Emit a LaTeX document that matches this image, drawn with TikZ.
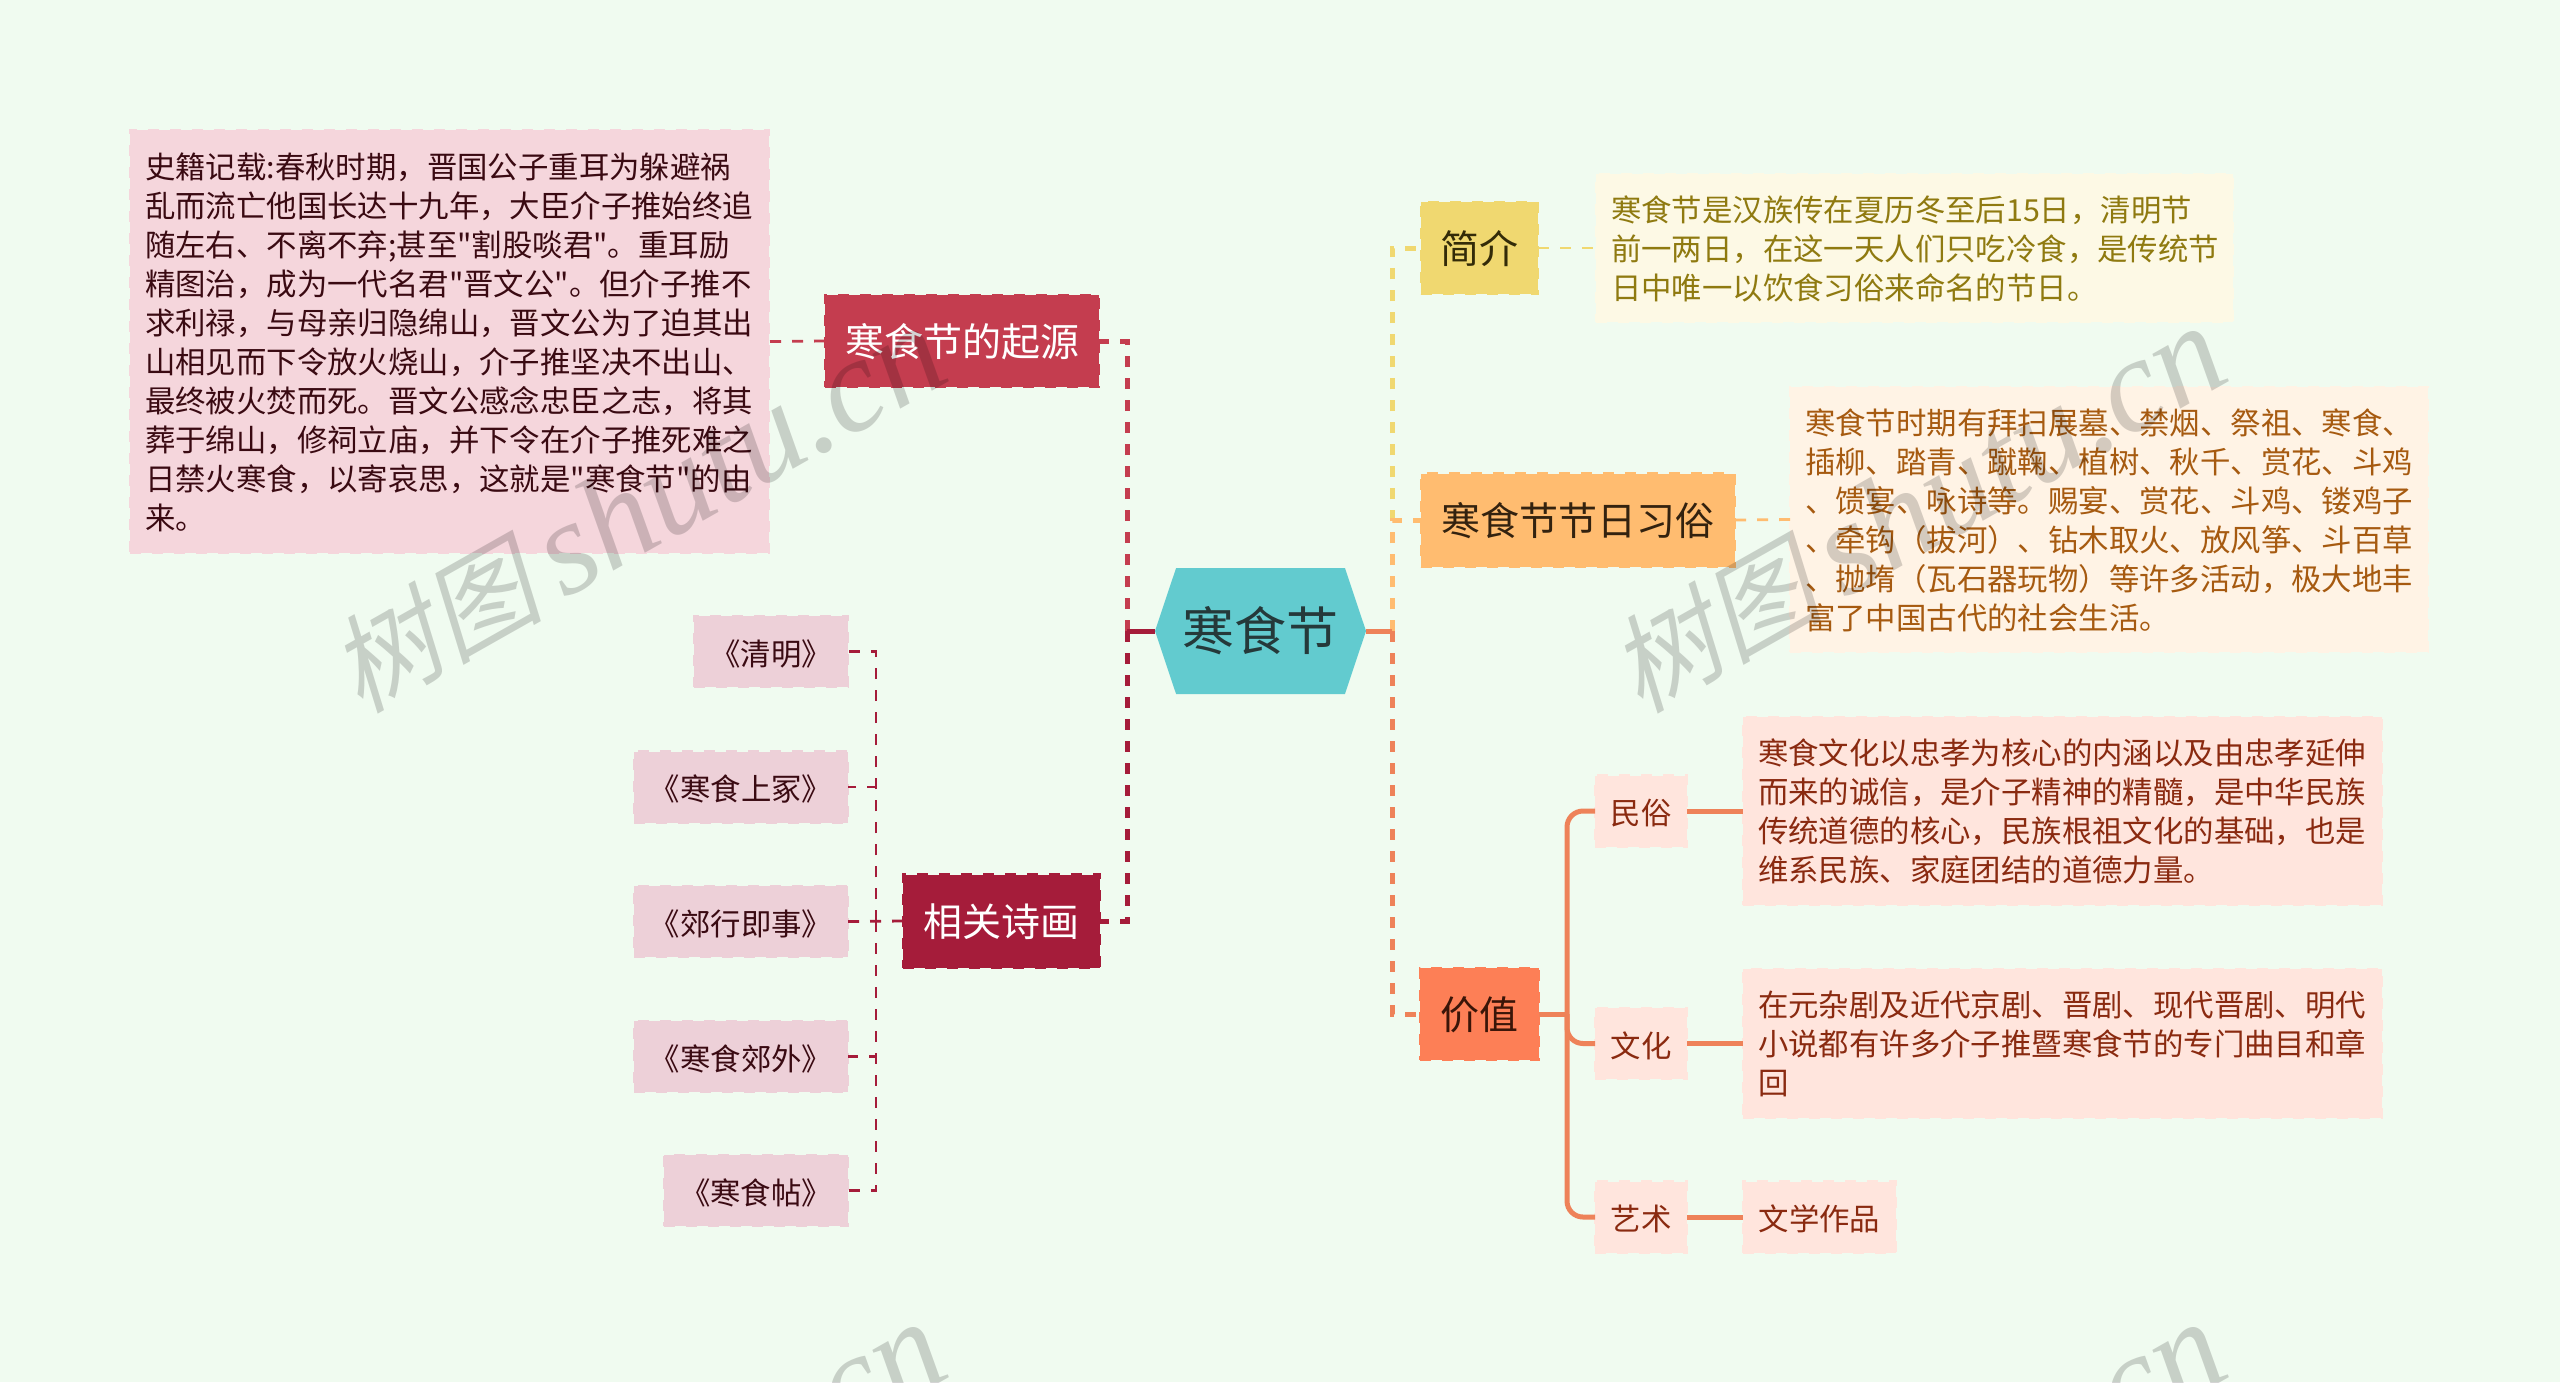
\documentclass[tikz,border=0pt]{standalone}
\usepackage{fontspec}
\usetikzlibrary{shapes.symbols}
\newfontfamily\cjk{Noto Sans CJK SC}
\newfontfamily\wmlatin{Liberation Serif}[Scale=1.25,ItalicFont={Liberation Serif Italic}]
\newfontfamily\wmcjk{Noto Sans CJK SC}[FakeSlant=0.22]
\newcommand{\zc}{\char"FF0C\relax}
\newcommand{\zl}{\char"FF08\relax}
\newcommand{\zr}{\char"FF09\relax}
\definecolor{bgc}{HTML}{F0FBF0}
\definecolor{rootc}{HTML}{62CBCF}
\definecolor{roott}{HTML}{25393A}
\definecolor{qyc}{HTML}{C43D4F}
\definecolor{qyn}{HTML}{F5D6DC}
\definecolor{qyt}{HTML}{3A0A12}
\definecolor{xgc}{HTML}{A51C3A}
\definecolor{xgn}{HTML}{EDD0D8}
\definecolor{jjc}{HTML}{F0D870}
\definecolor{jjn}{HTML}{FDF9E5}
\definecolor{jjt}{HTML}{8F7A10}
\definecolor{jjd}{HTML}{332B08}
\definecolor{xsc}{HTML}{FFBC70}
\definecolor{xsn}{HTML}{FFF3E5}
\definecolor{xst}{HTML}{A65A10}
\definecolor{xsd}{HTML}{33220F}
\definecolor{jzc}{HTML}{FD7F56}
\definecolor{jzn}{HTML}{FFE5DD}
\definecolor{jzt}{HTML}{8A2A10}
\definecolor{jzd}{HTML}{3A1508}
\definecolor{jzl}{HTML}{EE8259}
\tikzset{
  x=0.5pt,y=-0.5pt,
  sz/.style n args={2}{minimum width=#1*0.5pt,minimum height=#2*0.5pt},
  boxbase/.style={rectangle,inner sep=0pt,outer sep=0pt,anchor=center,line width=1.2pt,dash pattern=on 5.5pt off 5.5pt},
  main/.style={boxbase,font=\cjk\fontsize{19.5pt}{24pt}\selectfont,text height=18.2pt,text depth=2.4pt},
  sub/.style={boxbase,font=\cjk\fontsize{15.2pt}{19.5pt}\selectfont,text height=15.7pt,text depth=1.9pt},
  note/.style={boxbase,font=\cjk\fontsize{15.2pt}{19.5pt}\selectfont,align=left,execute at begin node={\rule{0pt}{13.5pt}}},
  thick link/.style={line width=2.5pt,dash pattern=on 5.5pt off 5.5pt},
  thin link/.style={line width=1.4pt,dash pattern=on 5.5pt off 5.5pt},
  solid link/.style={line width=2.5pt,color=jzl},
  wm/.style={text=black,text opacity=0.17,rotate=29.5,anchor=center,inner sep=0pt,font=\fontsize{53.4pt}{60pt}\selectfont}
}
\newcommand{\wmtext}{{\wmcjk 树图}\hspace{10pt}{\wmlatin\itshape shutu.cn}}
\begin{document}
\begin{tikzpicture}
\useasboundingbox (0,0) rectangle (2560,1382);
\fill[bgc] (0,0) rectangle (2560,1382);

% root
\node[signal,signal to=west and east,signal pointer angle=143,fill=rootc,inner sep=0pt,outer sep=0pt,sz={211}{126},text=roott,font=\cjk\fontsize{26pt}{30pt}\selectfont,text height=22.6pt,text depth=3.1pt] (root) at (1260.5,631) {寒食节};

% main branches
\node[main,sz={274}{92},fill=qyc,draw=qyc,text=white] (qy) at (962,341) {寒食节的起源};
\node[main,sz={197}{93},fill=xgc,draw=xgc,text=white] (xg) at (1001.5,921) {相关诗画};
\node[main,sz={117}{92},fill=jjc,draw=jjc,text=jjd] (jj) at (1479.5,248) {简介};
\node[main,sz={314}{93},fill=xsc,draw=xsc,text=xsd] (xs) at (1578,520) {寒食节节日习俗};
\node[main,sz={119}{92},fill=jzc,draw=jzc,text=jzd] (jz) at (1479.5,1014) {价值};

% origin note
\node[note,sz={639}{423},fill=qyn,draw=qyn,text=qyt,text width=609*0.5pt] (qyb) at (449.5,341.5) {史籍记载:春秋时期\zc 晋国公子重耳为躲避祸\\乱而流亡他国长达十九年\zc 大臣介子推始终追\\随左右、不离不弃;甚至"割股啖君"。重耳励\\精图治\zc 成为一代名君"晋文公"。但介子推不\\求利禄\zc 与母亲归隐绵山\zc 晋文公为了迫其出\\山相见而下令放火烧山\zc 介子推坚决不出山、\\最终被火焚而死。晋文公感念忠臣之志\zc 将其\\葬于绵山\zc 修祠立庙\zc 并下令在介子推死难之\\日禁火寒食\zc 以寄哀思\zc 这就是"寒食节"的由\\来。};

% poems
\node[sub,sz={154}{71},fill=xgn,draw=xgn,text=qyt] (p1) at (771,651.5) {《清明》};
\node[sub,sz={214}{71},fill=xgn,draw=xgn,text=qyt] (p2) at (741,787) {《寒食上冢》};
\node[sub,sz={214}{71},fill=xgn,draw=xgn,text=qyt] (p3) at (741,921.5) {《郊行即事》};
\node[sub,sz={214}{71},fill=xgn,draw=xgn,text=qyt] (p4) at (741,1056.5) {《寒食郊外》};
\node[sub,sz={184}{71},fill=xgn,draw=xgn,text=qyt] (p5) at (756,1190.5) {《寒食帖》};

% right notes
\node[note,sz={637}{148},fill=jjn,draw=jjn,text=jjt,text width=607*0.5pt] (jjb) at (1914.5,248) {寒食节是汉族传在夏历冬至后15日\zc 清明节\\前一两日\zc 在这一天人们只吃冷食\zc 是传统节\\日中唯一以饮食习俗来命名的节日。};
\node[note,sz={638}{265},fill=xsn,draw=xsn,text=xst,text width=608*0.5pt] (xsb) at (2109,519.5) {寒食节时期有拜扫展墓、禁烟、祭祖、寒食、\\插柳、踏青、蹴鞠、植树、秋千、赏花、斗鸡\\、馈宴、咏诗等。赐宴、赏花、斗鸡、镂鸡子\\、牵钩\zl 拔河\zr 、钻木取火、放风筝、斗百草\\、抛堶\zl 瓦石器玩物\zr 等许多活动\zc 极大地丰\\富了中国古代的社会生活。};

% value children
\node[sub,sz={92}{71},fill=jzn,draw=jzn,text=jzt] (v1) at (1641,811) {民俗};
\node[sub,sz={92}{71},fill=jzn,draw=jzn,text=jzt] (v2) at (1641,1043.5) {文化};
\node[sub,sz={92}{71},fill=jzn,draw=jzn,text=jzt] (v3) at (1641,1217) {艺术};
\node[note,sz={639}{188},fill=jzn,draw=jzn,text=jzt,text width=609*0.5pt] (v1b) at (2062.5,811) {寒食文化以忠孝为核心的内涵以及由忠孝延伸\\而来的诚信\zc 是介子精神的精髓\zc 是中华民族\\传统道德的核心\zc 民族根祖文化的基础\zc 也是\\维系民族、家庭团结的道德力量。};
\node[note,sz={639}{149},fill=jzn,draw=jzn,text=jzt,text width=609*0.5pt] (v2b) at (2062.5,1043.5) {在元杂剧及近代京剧、晋剧、现代晋剧、明代\\小说都有许多介子推暨寒食节的专门曲目和章\\回};
\node[sub,sz={153}{71},fill=jzn,draw=jzn,text=jzt] (v3b) at (1819.5,1217) {文学作品};

% spine points
\coordinate (spL) at (1127,631);
\coordinate (spR) at (1392,631);
\coordinate (spP) at (876,921);
\coordinate (spV) at (1567,1014);

% left connectors
\draw[thick link,color=qyc] (spL) |- (qy.east);
\draw[thick link,color=xgc] (spL) |- (xg.east);
\draw[line width=2.5pt,color=xgc] (root.west) -- (spL);
\draw[thin link,color=qyc] (qy.west) -- (qyb.east);
\foreach \n in {p1,p2,p4,p5}
  \draw[thin link,color=xgc] (spP) |- (\n.east);
\draw[thin link,color=xgc] (xg.west) -- (p3.east);

% right connectors
\draw[thick link,color=jjc] (spR) |- (jj.west);
\draw[thick link,color=xsc] (spR) |- (xs.west);
\draw[thick link,color=jzl] (spR) |- (jz.west);
\draw[line width=2.5pt,color=jzl] (root.east) -- (spR);
\draw[thin link,color=jjc] (jj.east) -- (jjb.west);
\draw[thin link,color=xsc] (xs.east) -- (xsb.west);

% value connectors
\draw[solid link] (jz.east) -- (spV);
\foreach \n in {v1,v2,v3}
  \draw[solid link,rounded corners=8pt] (spV) |- (\n.west);
\draw[solid link] (v1.east) -- (v1b.west);
\draw[solid link] (v2.east) -- (v2b.west);
\draw[solid link] (v3.east) -- (v3b.west);

% watermarks
\begin{scope}
\clip (0,0) rectangle (2560,1382);
\node[wm] (w1) at (637,510) {\wmtext};
\node[wm] (w2) at (1917,510) {\wmtext};
\node[wm] (w3) at (637,1506) {\wmtext};
\node[wm] (w4) at (1917,1506) {\wmtext};
\end{scope}
\end{tikzpicture}
\end{document}
